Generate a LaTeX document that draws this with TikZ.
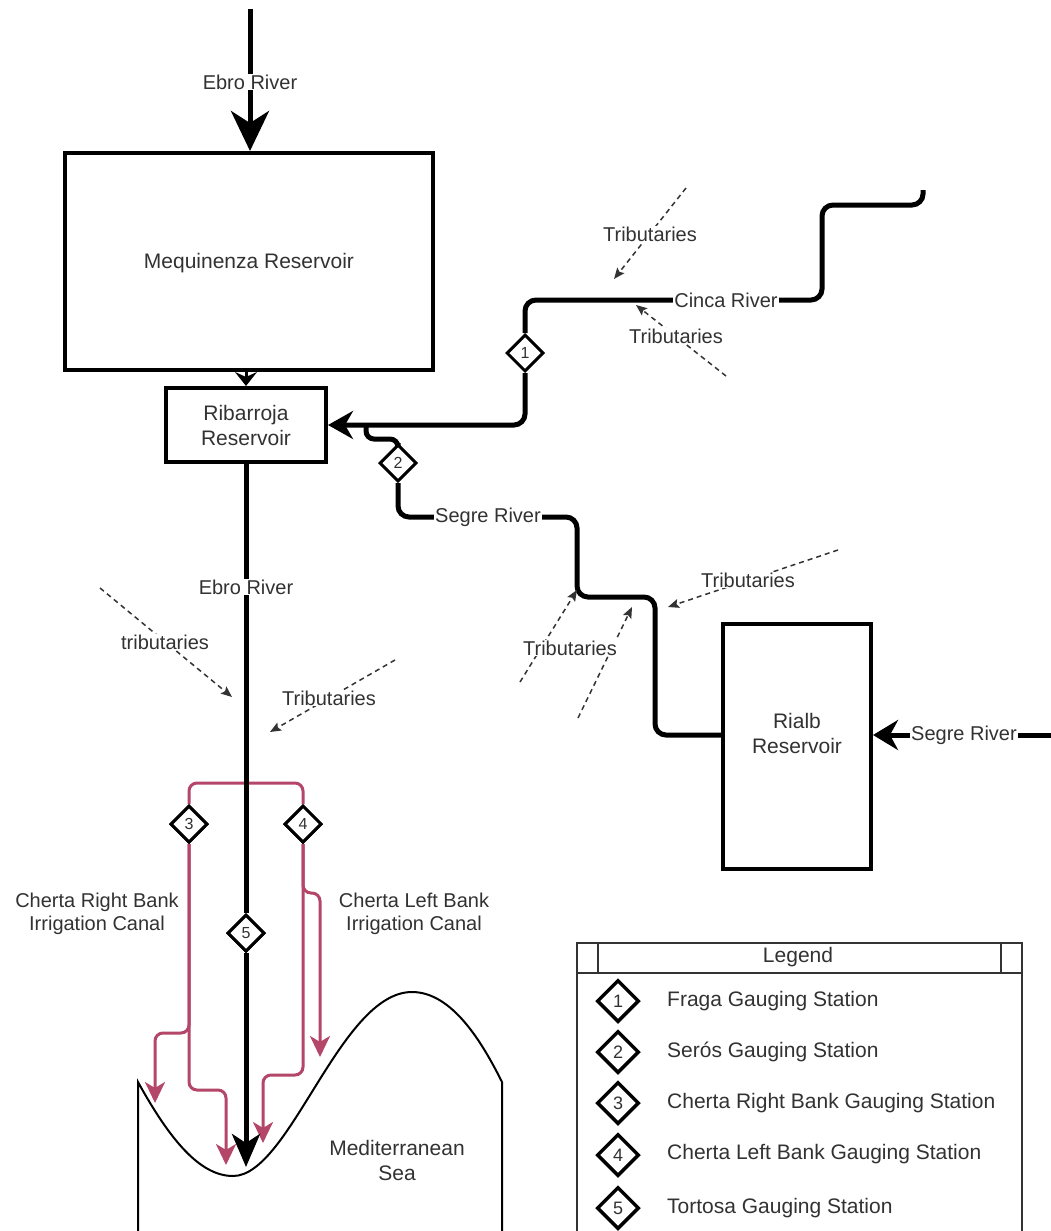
\documentclass[tikz,border=0pt]{standalone}
\usepackage{fontspec}
\setmainfont{Liberation Sans}
\usetikzlibrary{arrows.meta,shapes.geometric}
\definecolor{canal}{RGB}{180,70,105}
\definecolor{txt}{RGB}{50,50,50}
\begin{document}
\begin{tikzpicture}[x=1pt,y=-1pt,
  river/.style={line width=5pt, rounded corners=11pt},
  box/.style={draw, line width=4pt, rectangle, inner sep=0pt, fill=white},
  boxtext/.style={inner sep=0pt, text=txt, font=\fontsize{21}{25}\selectfont, align=center},
  lbl/.style={fill=white, inner sep=1pt, text=txt, font=\fontsize{20}{23}\selectfont, align=center},
  plainlbl/.style={inner sep=1pt, text=txt, font=\fontsize{20}{23}\selectfont, align=center},
  station/.style={diamond, draw, line width=3pt, fill=white, minimum width=37pt, minimum height=37pt, inner sep=0pt, font=\fontsize{16}{16}\selectfont, text=txt},
  legstation/.style={station, line width=3.5pt, minimum width=42pt, minimum height=42pt, font=\fontsize{18}{18}\selectfont},
  legtext/.style={anchor=west, inner sep=0pt, text=txt, font=\fontsize{21}{25}\selectfont},
  canalline/.style={draw=canal, line width=3pt, rounded corners=8pt},
  canalarrow/.style={-{Stealth[length=21pt,width=20pt,inset=6pt]}},
  trib/.style={dash pattern=on 5pt off 4pt, line width=1.5pt, draw=black!80, -{Stealth[length=11pt,width=9pt,inset=2pt]}},
]
\useasboundingbox (0,0) rectangle (1050,1231);
\fill[white] (0,0) rectangle (1050,1231);

% ---- boxes ----
\node[box, minimum width=368pt, minimum height=217pt] (mequ) at (249,261.5) {};
\node[boxtext] (mequt) at (249,263) {Mequinenza Reservoir};
\node[box, minimum width=160pt, minimum height=74pt] (rib) at (246,425) {};
\node[boxtext] (ribt) at (246,425.5) {Ribarroja\\Reservoir};
\node[box, minimum width=148pt, minimum height=245pt] (rialb) at (797,746.5) {};
\node[boxtext] (rialbt) at (797,733) {Rialb\\Reservoir};

% ---- sea ----
\draw[line width=2pt] (138,1240) -- (138,1082)
  .. controls (170,1140) and (200,1176) .. (233,1176)
  .. controls (290,1176) and (340,992) .. (412,992)
  .. controls (452,992) and (482,1042) .. (502,1082) -- (502,1240);
\node[boxtext] (sea) at (397,1160) {Mediterranean\\Sea};

% ---- coordinates ----
\coordinate (ebroTop) at (250,9);
\coordinate (cincaSrc) at (923,190);
\coordinate (segreSrc) at (1052,735);
\coordinate (yS) at (0,735);
\coordinate (ebroMouth) at (246,1167);
\coordinate (c3L) at (155,1103);
\coordinate (c3R) at (226,1165);
\coordinate (c4R) at (320,1057);
\coordinate (c4L) at (263,1143);

% ---- stations ----
\node[station] (s1) at (525,353) {1};
\node[station] (s2) at (398,463) {2};
\node[station] (s3) at (189,824) {3};
\node[station] (s4) at (303,824) {4};
\node[station] (s5) at (246,933) {5};

% ---- Ebro upstream ----
\draw[river, -{Stealth[length=40pt,width=38pt,inset=12pt]}] (ebroTop) -- (ebroTop |- mequ.north);
\node[lbl] (lE1) at (250,82) {Ebro River};
\draw[line width=3pt, -{Stealth[length=14pt,width=22pt,inset=5pt]}] (rib.north |- mequ.south) -- (rib.north);

% ---- Cinca ----
\draw[river] (cincaSrc) -- (923,205) -- (822,205) -- (822,300) -- (525,300) -- (s1.north);
\draw[river, -{Stealth[length=25pt,width=28pt,inset=8pt]}] (s1.south) -- (s1.south |- rib.east) -- (rib.east);
\node[lbl] (lC) at (726,300) {Cinca River};

% ---- Segre ----
\draw[river, -{Stealth[length=25pt,width=30pt,inset=8pt]}] (segreSrc) -- (rialb.east |- yS);
\node[lbl] (lS2) at (964,735) {Segre River};
\draw[river] (rialb.west |- yS) -- (655,735) -- (655,597) -- (577,597) -- (577,517) -- (398,517) -- (s2.south);
\draw[river, rounded corners=8pt] (s2.north) -- (398,439) -- (366,439) -- (366,425);
\node[lbl] (lS1) at (488,517) {Segre River};

% ---- canals ----
\draw[canalline] (s3.north) -- (189,783) -- (303,783) -- (s4.north);
\draw[canalline, canalarrow] (s3.south) -- (189,1033) -- (155,1033) -- (c3L);
\draw[canalline, canalarrow] (s3.south) -- (189,1090) -- (226,1090) -- (c3R);
\draw[canalline, canalarrow] (s4.south) -- (303,893) -- (320,893) -- (c4R);
\draw[canalline, canalarrow] (s4.south) -- (303,1075) -- (263,1075) -- (c4L);
\node[plainlbl] (lRB) at (97,914) {Cherta Right Bank\\Irrigation Canal};
\node[plainlbl] (lLB) at (414,914) {Cherta Left Bank\\Irrigation Canal};

% ---- Ebro downstream ----
\draw[river] (rib.south) -- (s5.north);
\draw[river, -{Stealth[length=33pt,width=28pt,inset=9pt]}] (s5.south) -- (ebroMouth);
\node[lbl] (lE2) at (246,587) {Ebro River};
\node[station] at (s5) {5};
\node[station] at (s3) {3};
\node[station] at (s4) {4};

% ---- tributaries ----
\coordinate (t1s) at (686,188); \coordinate (t1e) at (614,279);
\draw[trib] (t1s) -- (t1e);
\node[lbl] (lt1) at (650,234) {Tributaries};
\coordinate (t2s) at (726,376); \coordinate (t2e) at (636,305);
\draw[trib] (t2s) -- (t2e);
\node[lbl] (lt2) at (676,336) {Tributaries};
\coordinate (t3s) at (838,550); \coordinate (t3e) at (668,607);
\draw[trib] (t3s) -- (t3e);
\node[lbl] (lt3) at (748,580) {Tributaries};
\coordinate (t4s) at (520,682); \coordinate (t4e) at (577,590);
\coordinate (t5s) at (578,718); \coordinate (t5e) at (632,607);
\draw[trib] (t4s) -- (t4e);
\draw[trib] (t5s) -- (t5e);
\node[lbl] (lt4) at (570,648) {Tributaries};
\coordinate (t6s) at (100,588); \coordinate (t6e) at (232,697);
\draw[trib] (t6s) -- (t6e);
\node[lbl] (lt6) at (165,642) {tributaries};
\coordinate (t7s) at (395,660); \coordinate (t7e) at (270,732);
\draw[trib] (t7s) -- (t7e);
\node[lbl] (lt7) at (329,698) {Tributaries};

% ---- legend ----
\draw[line width=1.5pt, draw=black!80, fill=white] (577,1245) -- (577,943) -- (1022,943) -- (1022,1245);
\draw[line width=1.5pt, draw=black!80] (577,973) -- (1022,973);
\draw[line width=1.5pt, draw=black!80] (598,943) -- (598,973);
\draw[line width=1.5pt, draw=black!80] (1001,943) -- (1001,973);
\node[boxtext] (legt) at (798,957) {Legend};
\node[legstation] (g1) at (618,1001) {1};
\node[legstation] (g2) at (618,1052) {2};
\node[legstation] (g3) at (618,1103) {3};
\node[legstation] (g4) at (618,1155) {4};
\node[legstation] (g5) at (618,1208) {5};
\node[legtext] (gt1) at (667,1001) {Fraga Gauging Station};
\node[legtext] (gt2) at (667,1052) {Serós Gauging Station};
\node[legtext] (gt3) at (667,1103) {Cherta Right Bank Gauging Station};
\node[legtext] (gt4) at (667,1154) {Cherta Left Bank Gauging Station};
\node[legtext] (gt5) at (667,1208) {Tortosa Gauging Station};
\end{tikzpicture}
\end{document}
